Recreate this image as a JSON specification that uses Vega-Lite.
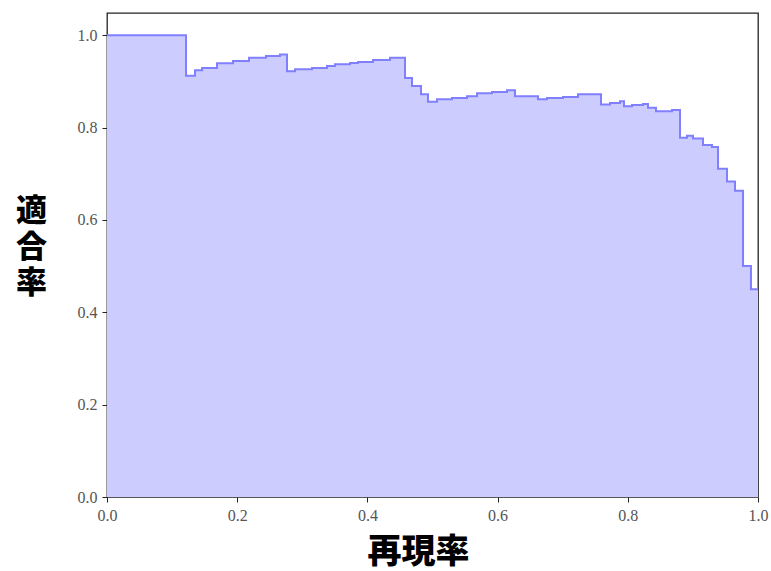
{
  "$schema": "https://vega.github.io/schema/vega-lite/v6.json",
  "autosize": {"type": "none"},
  "padding": {"left": 107, "top": 13, "right": 13, "bottom": 74},
  "width": 651,
  "height": 484,
  "background": "white",
  "config": {
    "view": {"stroke": "#222222", "strokeWidth": 1.3},
    "axis": {
      "grid": false,
      "domain": false,
      "tickColor": "#222222",
      "tickSize": 5,
      "labelFont": "Liberation Serif",
      "labelFontSize": 16,
      "labelColor": "#555555",
      "labelFlush": false,
      "titleFont": "Noto Sans CJK JP",
      "titleFontWeight": 900,
      "titleColor": "#000000"
    }
  },
  "data": {
    "values": [
      {"recall": 0.0, "precision": 1.0},
      {"recall": 0.1214, "precision": 0.912},
      {"recall": 0.1352, "precision": 0.924},
      {"recall": 0.146, "precision": 0.929},
      {"recall": 0.169, "precision": 0.939},
      {"recall": 0.1935, "precision": 0.944},
      {"recall": 0.2181, "precision": 0.951},
      {"recall": 0.2442, "precision": 0.955},
      {"recall": 0.2657, "precision": 0.958},
      {"recall": 0.2765, "precision": 0.922},
      {"recall": 0.2888, "precision": 0.926},
      {"recall": 0.3149, "precision": 0.929},
      {"recall": 0.3379, "precision": 0.933},
      {"recall": 0.3502, "precision": 0.937},
      {"recall": 0.3733, "precision": 0.94},
      {"recall": 0.3856, "precision": 0.942},
      {"recall": 0.4086, "precision": 0.946},
      {"recall": 0.4347, "precision": 0.951},
      {"recall": 0.4578, "precision": 0.907},
      {"recall": 0.4685, "precision": 0.89},
      {"recall": 0.4823, "precision": 0.872},
      {"recall": 0.4931, "precision": 0.856},
      {"recall": 0.5069, "precision": 0.861},
      {"recall": 0.53, "precision": 0.864},
      {"recall": 0.553, "precision": 0.868},
      {"recall": 0.5684, "precision": 0.874},
      {"recall": 0.5914, "precision": 0.877},
      {"recall": 0.6144, "precision": 0.881},
      {"recall": 0.6267, "precision": 0.868},
      {"recall": 0.6621, "precision": 0.861},
      {"recall": 0.6759, "precision": 0.864},
      {"recall": 0.7005, "precision": 0.866},
      {"recall": 0.7235, "precision": 0.872},
      {"recall": 0.7588, "precision": 0.85},
      {"recall": 0.7727, "precision": 0.853},
      {"recall": 0.788, "precision": 0.857},
      {"recall": 0.7942, "precision": 0.846},
      {"recall": 0.8065, "precision": 0.849},
      {"recall": 0.8234, "precision": 0.851},
      {"recall": 0.831, "precision": 0.843},
      {"recall": 0.8433, "precision": 0.835},
      {"recall": 0.8679, "precision": 0.838},
      {"recall": 0.8802, "precision": 0.778},
      {"recall": 0.8909, "precision": 0.782},
      {"recall": 0.9002, "precision": 0.776},
      {"recall": 0.9155, "precision": 0.762},
      {"recall": 0.9293, "precision": 0.758},
      {"recall": 0.9386, "precision": 0.711},
      {"recall": 0.9524, "precision": 0.683},
      {"recall": 0.9647, "precision": 0.663},
      {"recall": 0.9770, "precision": 0.5},
      {"recall": 0.9892, "precision": 0.45},
      {"recall": 1.0, "precision": 0.45}
    ]
  },
  "mark": {
    "type": "area",
    "interpolate": "step-after",
    "fill": "#ccccff",
    "fillOpacity": 1,
    "line": {"color": "#8080ff", "strokeWidth": 2}
  },
  "encoding": {
    "x": {
      "field": "recall",
      "type": "quantitative",
      "scale": {"domain": [0, 1], "nice": false, "zero": false},
      "axis": {
        "values": [0, 0.2, 0.4, 0.6, 0.8, 1.0],
        "format": ".1f",
        "labelPadding": 5,
        "title": "再現率",
        "titleFontSize": 34,
        "titlePadding": 12,
        "titleX": 311
      }
    },
    "y": {
      "field": "precision",
      "type": "quantitative",
      "scale": {"domain": [0, 1.048], "nice": false},
      "axis": {
        "values": [0, 0.2, 0.4, 0.6, 0.8, 1.0],
        "format": ".1f",
        "labelPadding": 5,
        "title": ["適", "合", "率"],
        "titleFontSize": 31,
        "titleAngle": 0,
        "titleAlign": "center",
        "titleBaseline": "middle",
        "titleLineHeight": 36,
        "titleX": -76,
        "titleY": 198
      }
    }
  }
}
